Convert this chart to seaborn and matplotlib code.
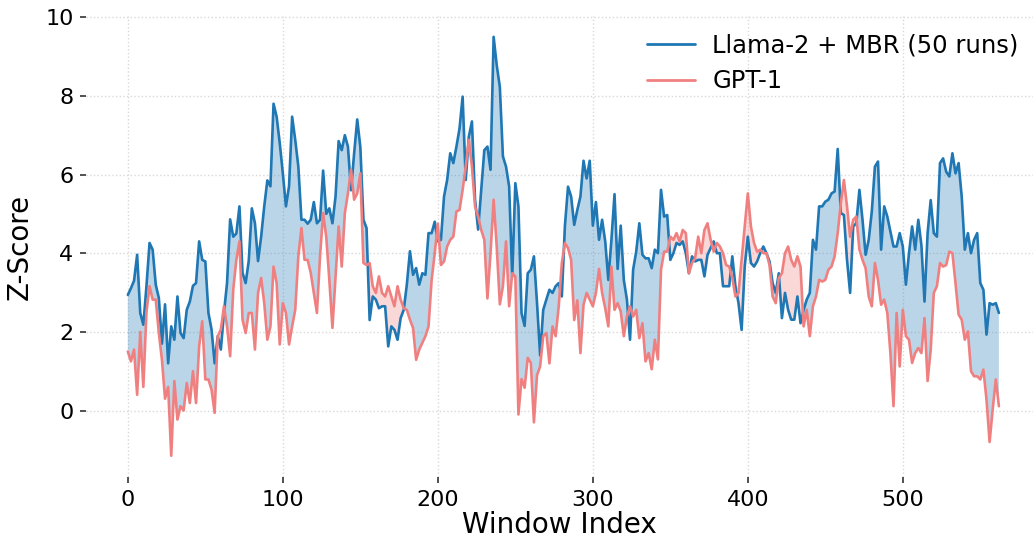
import numpy as np
import pandas as pd
import seaborn as sns
from matplotlib import pyplot as plt

# window index (every 2nd window)
window = np.arange(0, 563, 2)

llama_mbr = [
    2.94, 3.11, 3.3, 3.96, 2.48, 2.18, 3.16, 4.26, 4.09, 3.2, 2.86, 1.7, 2.7, 1.2, 2.14, 1.8, 2.9, 1.97,
    1.84, 2.56, 2.77, 3.17, 3.24, 4.3, 3.83, 3.79, 2.48, 2.06, 1.2, 1.89, 1.55, 2.48, 3.24, 4.86, 4.42,
    4.5, 5.19, 3.5, 3.24, 3.8, 5.14, 4.76, 3.8, 4.42, 5.19, 5.85, 5.7, 7.8, 7.47, 6.8, 6.03, 5.19, 5.7,
    7.47, 6.88, 6.2, 4.85, 4.85, 4.75, 4.85, 5.3, 4.76, 4.85, 6.1, 5.0, 5.14, 4.76, 5.44, 6.85, 6.62, 7.0,
    6.71, 5.6, 6.54, 7.4, 6.7, 4.85, 4.64, 2.3, 2.9, 2.82, 2.6, 2.65, 2.65, 1.63, 2.14, 2.05, 1.8, 2.35,
    2.56, 3.2, 4.05, 3.45, 3.62, 3.2, 3.49, 3.45, 4.51, 4.51, 4.8, 4.3, 4.34, 5.44, 5.86, 6.54, 6.29,
    6.71, 7.17, 7.98, 5.86, 6.96, 7.35, 5.36, 4.6, 5.6, 6.62, 6.71, 6.12, 9.5, 8.78, 8.23, 6.46, 6.2, 5.7,
    3.4, 5.78, 5.19, 2.48, 2.15, 3.49, 3.58, 3.92, 2.73, 1.4, 2.56, 2.82, 3.07, 2.99, 3.16, 3.24, 2.9, 4.7,
    5.69, 5.44, 4.72, 5.1, 5.44, 6.35, 5.9, 6.35, 4.7, 5.3, 4.34, 4.85, 4.3, 3.32, 4.34, 5.5, 3.6, 4.7,
    3.32, 2.82, 1.8, 3.58, 4.04, 4.76, 3.96, 3.87, 3.87, 3.62, 4.09, 4.0, 5.61, 4.93, 4.97, 3.83, 4.0,
    4.26, 4.21, 4.3, 4.0, 3.49, 3.92, 3.79, 3.83, 3.83, 3.41, 3.96, 4.13, 4.3, 4.0, 4.0, 3.16, 3.16, 3.16,
    3.92, 3.16, 2.73, 2.05, 3.66, 4.42, 3.75, 3.66, 3.79, 4.0, 4.17, 4.0, 3.79, 3.24, 2.99, 3.49, 2.35, 2.99,
    2.56, 2.31, 2.31, 2.9, 2.22, 2.56, 2.82, 2.99, 4.34, 4.09, 5.19, 5.19, 5.31, 5.36, 5.52, 5.57, 6.65,
    5.02, 4.97, 3.83, 2.99, 4.68, 4.76, 5.61, 4.85, 3.96, 4.34, 5.06, 6.2, 6.33, 4.09, 5.19, 4.93, 4.55, 4.17,
    4.17, 4.51, 4.17, 3.2, 4.0, 4.68, 4.09, 4.85, 4.2, 2.77, 4.51, 5.35, 4.51, 4.42, 6.29, 6.41, 6.07, 5.95,
    6.54, 6.03, 6.29, 5.44, 4.09, 4.51, 4.0, 4.34, 4.51, 3.24, 3.07, 1.93, 2.73, 2.69, 2.73, 2.48,
]

gpt1 = [
    1.5, 1.25, 1.55, 0.4, 2.0, 0.6, 2.5, 3.16, 2.82, 2.82, 1.97, 1.29, 0.3, 0.6, -1.15, 0.75, -0.23, 0.11,
    0.0, 0.7, 0.19, 1.0, 0.19, 1.63, 2.27, 0.79, 0.79, 0.53, -0.06, 1.89, 2.06, 2.65, 2.14, 1.38, 3.07,
    3.83, 4.3, 2.31, 1.97, 2.48, 2.48, 1.55, 2.99, 3.37, 2.73, 1.8, 2.14, 3.66, 3.24, 1.68, 2.73, 2.48, 1.68,
    2.14, 2.56, 3.92, 4.64, 3.83, 3.83, 3.5, 2.99, 2.48, 3.92, 5.02, 4.42, 3.32, 2.1, 3.41, 4.68, 3.66, 5.02,
    5.52, 6.12, 5.36, 5.52, 6.03, 3.75, 3.7, 3.75, 3.16, 2.99, 3.41, 2.99, 2.9, 3.16, 2.9, 2.65, 3.16, 2.82,
    2.6, 2.56, 2.31, 2.1, 1.29, 1.55, 1.72, 1.89, 2.14, 3.32, 4.0, 4.75, 3.7, 3.79, 4.17, 4.34, 4.42,
    5.06, 5.1, 5.61, 6.2, 6.88, 6.2, 5.19, 4.93, 4.59, 4.34, 2.85, 4.0, 5.36, 4.17, 2.7, 3.16, 4.3, 2.65,
    3.49, 3.41, -0.1, 0.8, 0.58, 1.34, 1.21, -0.3, 0.9, 1.12, 1.89, 1.97, 1.2, 2.14, 1.89, 2.65, 3.75, 4.26,
    4.13, 3.83, 2.3, 2.8, 1.46, 2.69, 2.99, 2.82, 2.65, 2.99, 3.6, 2.99, 2.6, 2.14, 3.66, 2.56, 2.73, 2.52,
    1.89, 2.39, 2.65, 2.39, 2.56, 1.84, 2.22, 1.25, 1.46, 1.05, 1.8, 1.3, 3.58, 4.04, 4.04, 4.42, 4.34,
    4.51, 4.3, 4.59, 4.51, 3.49, 3.75, 3.87, 4.42, 4.0, 4.59, 4.76, 4.34, 4.04, 4.26, 4.17, 4.0, 3.7, 3.66,
    3.37, 2.9, 2.99, 3.83, 4.68, 5.52, 4.68, 4.26, 4.04, 4.09, 4.0, 4.0, 3.7, 2.9, 2.73, 3.37, 3.49, 4.0,
    4.17, 3.83, 3.66, 3.92, 3.66, 2.14, 2.56, 1.89, 2.65, 2.9, 3.32, 3.28, 3.32, 3.58, 3.66, 3.92, 4.51,
    5.27, 5.86, 5.19, 4.42, 4.85, 4.93, 4.09, 3.83, 3.62, 2.9, 2.65, 3.75, 3.32, 2.69, 2.82, 2.48, 1.46, 0.11,
    2.48, 1.12, 2.56, 1.89, 1.8, 1.21, 1.46, 1.59, 1.46, 2.35, 0.75, 1.55, 2.99, 3.16, 3.75, 3.66, 3.7, 4.04,
    4.0, 3.24, 2.44, 2.31, 1.8, 2.01, 1.0, 0.87, 0.87, 0.79, 1.04, 0.28, -0.8, 0.03, 0.79, 0.11,
]

BLUE = '#1f77b4'
PINK = '#f08080'

df = pd.DataFrame({'Window Index': window, 'Llama-2 + MBR (50 runs)': llama_mbr, 'GPT-1': gpt1})
long_df = df.melt(id_vars='Window Index', var_name='model', value_name='Z-Score')

sns.set_style('whitegrid', {'grid.linestyle': ':', 'grid.color': '#d9d9d9'})
plt.rcParams['font.family'] = ['DejaVu Sans']
plt.rcParams['text.color'] = 'black'
plt.rcParams['axes.labelcolor'] = 'black'
plt.rcParams['xtick.color'] = 'black'
plt.rcParams['ytick.color'] = 'black'

fig = plt.figure(figsize=(10.33, 5.5), dpi=100)
ax = fig.add_axes([86 / 1033, 1 - 477 / 550, 1 - 86 / 1033, (477 - 16) / 550])

sns.lineplot(data=long_df, x='Window Index', y='Z-Score', hue='model',
             palette={'Llama-2 + MBR (50 runs)': BLUE, 'GPT-1': PINK},
             linewidth=1.9, ax=ax)

a = np.array(llama_mbr)
b = np.array(gpt1)
ax.fill_between(window, a, b, where=a >= b, interpolate=True, color=BLUE, alpha=0.3, linewidth=0)
ax.fill_between(window, a, b, where=a < b, interpolate=True, color=PINK, alpha=0.3, linewidth=0)

ax.set_xlim(-27, 584)
ax.set_ylim(-1.69, 10.03)
ax.set_xticks([0, 100, 200, 300, 400, 500])
ax.set_yticks([0, 2, 4, 6, 8, 10])
for s in ax.spines.values():
    s.set_visible(False)
ax.grid(True, linestyle=':', color='#d9d9d9', linewidth=1)
ax.tick_params(axis='both', bottom=True, left=True, length=4, width=1.2,
               color='#333333', labelcolor='black', labelsize=16, pad=5)
ax.set_xlabel('Window Index', fontsize=20, labelpad=1, color='black')
ax.set_ylabel('Z-Score', fontsize=20, labelpad=8, color='black')

leg = ax.legend(loc='upper right', frameon=False, fontsize=17.5, handlelength=2.0,
                handletextpad=0.7, bbox_to_anchor=(1.008, 1.01))
for line in leg.get_lines():
    line.set_linewidth(2)
for t in leg.get_texts():
    t.set_color('black')

fig.savefig('out.png', dpi=100)
